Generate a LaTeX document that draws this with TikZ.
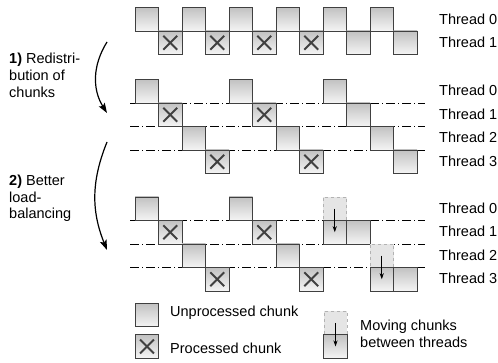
\documentclass[tikz,border=0pt]{standalone}
\usepackage{fontspec}
\setmainfont{Liberation Sans}
\usetikzlibrary{arrows.meta}
\def\sz{23.5}
\def\tx{439}

\begin{document}
\begin{tikzpicture}[x=1pt,y=-1pt,>={Stealth[length=6pt,width=4pt]},
  chunk/.style={draw=black!75,line width=0.6pt,minimum size=\sz pt,inner sep=0pt,
    top color=black!24,bottom color=black!4},
  done/.style={chunk,path picture={
    \draw[line width=2pt] ([xshift=4.8pt,yshift=-4.8pt]path picture bounding box.north west)
      -- ([xshift=-4.8pt,yshift=4.8pt]path picture bounding box.south east);
    \draw[line width=2pt] ([xshift=-4.8pt,yshift=-4.8pt]path picture bounding box.north east)
      -- ([xshift=4.8pt,yshift=4.8pt]path picture bounding box.south west);}},
  ghost/.style={draw=black!30,dashed,fill=black!10,minimum size=\sz pt,inner sep=0pt},
  thread/.style={dash pattern=on 9pt off 3pt on 1pt off 3pt,line width=0.6pt},
  tname/.style={anchor=west,inner sep=0pt,font=\fontsize{14.5}{17}\selectfont},
  step text/.style={anchor=west,align=left,inner sep=0pt,font=\fontsize{14.5}{17}\selectfont}]

\useasboundingbox (0,0) rectangle (498,363);

% thread boundaries
\coordinate (l1) at (130,103);   \coordinate (r1) at (425,103);
\coordinate (l2) at (130,126.5); \coordinate (r2) at (425,126.5);
\coordinate (l3) at (130,150);   \coordinate (r3) at (425,150);
\coordinate (l4) at (130,220.5); \coordinate (r4) at (425,220.5);
\coordinate (l5) at (130,244);   \coordinate (r5) at (425,244);
\coordinate (l6) at (130,267.5); \coordinate (r6) at (425,267.5);
\draw[thread] (l1) -- (r1);
\draw[thread] (l2) -- (r2);
\draw[thread] (l3) -- (r3);
\draw[thread] (l4) -- (r4);
\draw[thread] (l5) -- (r5);
\draw[thread] (l6) -- (r6);

% two threads
\node[chunk] (a0) at (146.75,19.25) {};  \node[done] (a1) at (170.25,42.75) {};
\node[chunk] (a2) at (193.75,19.25) {};  \node[done] (a3) at (217.25,42.75) {};
\node[chunk] (a4) at (240.75,19.25) {};  \node[done] (a5) at (264.25,42.75) {};
\node[chunk] (a6) at (287.75,19.25) {};  \node[done] (a7) at (311.25,42.75) {};
\node[chunk] (a8) at (334.75,19.25) {};  \node[chunk] (a9) at (358.25,42.75) {};
\node[chunk] (a10) at (381.75,19.25) {}; \node[chunk] (a11) at (405.25,42.75) {};

% four threads
\node[chunk] (b0) at (146.75,91.25) {};  \node[done] (b1) at (170.25,114.75) {};
\node[chunk] (b2) at (193.75,138.25) {}; \node[done] (b3) at (217.25,161.75) {};
\node[chunk] (b4) at (240.75,91.25) {};  \node[done] (b5) at (264.25,114.75) {};
\node[chunk] (b6) at (287.75,138.25) {}; \node[done] (b7) at (311.25,161.75) {};
\node[chunk] (b8) at (334.75,91.25) {};  \node[chunk] (b9) at (358.25,114.75) {};
\node[chunk] (b10) at (381.75,138.25) {};\node[chunk] (b11) at (405.25,161.75) {};

% balanced
\node[chunk] (c0) at (146.75,208.75) {}; \node[done] (c1) at (170.25,232.25) {};
\node[chunk] (c2) at (193.75,255.75) {}; \node[done] (c3) at (217.25,279.25) {};
\node[chunk] (c4) at (240.75,208.75) {}; \node[done] (c5) at (264.25,232.25) {};
\node[chunk] (c6) at (287.75,255.75) {}; \node[done] (c7) at (311.25,279.25) {};
\node[ghost] (g1) at (334.75,208.75) {};
\node[chunk] (c8) at (334.75,232.25) {}; \node[chunk] (c9) at (358.25,232.25) {};
\node[ghost] (g2) at (381.75,255.75) {};
\node[chunk] (c10) at (381.75,279.25) {};\node[chunk] (c11) at (405.25,279.25) {};
\draw[->,line width=0.8pt] (g1.center) -- (c8.center);
\draw[->,line width=0.8pt] (g2.center) -- (c10.center);

% thread names
\node[tname] (t0) at (\tx,19.25) {Thread 0};
\node[tname] (t1) at (\tx,42.75) {Thread 1};
\node[tname] (u0) at (\tx,90.5) {Thread 0};
\node[tname] (u1) at (\tx,114) {Thread 1};
\node[tname] (u2) at (\tx,137.5) {Thread 2};
\node[tname] (u3) at (\tx,161) {Thread 3};
\node[tname] (v0) at (\tx,208) {Thread 0};
\node[tname] (v1) at (\tx,231.5) {Thread 1};
\node[tname] (v2) at (\tx,255) {Thread 2};
\node[tname] (v3) at (\tx,278.5) {Thread 3};

% steps
\node[step text] (s1) at (9,75) {\textbf{1)} Redistri-\\bution of\\chunks};
\node[step text] (s2) at (9,198.5) {\textbf{2)} Better\\[-0.5pt]load-\\[-0.5pt]balancing};
\coordinate (s1a) at (107,42);  \coordinate (s1b) at (107,113);
\coordinate (s2a) at (107,142); \coordinate (s2b) at (107,250);
\path[line width=1.2pt,-{Stealth[length=10pt,width=7pt,inset=2pt]}]
  (s1a) edge [bend right=32] (s1b)
  (s2a) edge [bend right=22] (s2b);

% legend
\node[chunk] (lu) at (147,315) {};
\node[tname] (lut) at (170,313) {Unprocessed chunk};
\node[done] (lp) at (147,346.5) {};
\node[tname] (lpt) at (170,348) {Processed chunk};
\node[ghost] (lg) at (335.5,323) {};
\node[chunk] (lm) at (335.5,346.5) {};
\draw[->,line width=0.8pt] (lg.center) -- (lm.center);
\node[tname,align=left] (lmt) at (360,334) {Moving chunks\\between threads};

\end{tikzpicture}
\end{document}
